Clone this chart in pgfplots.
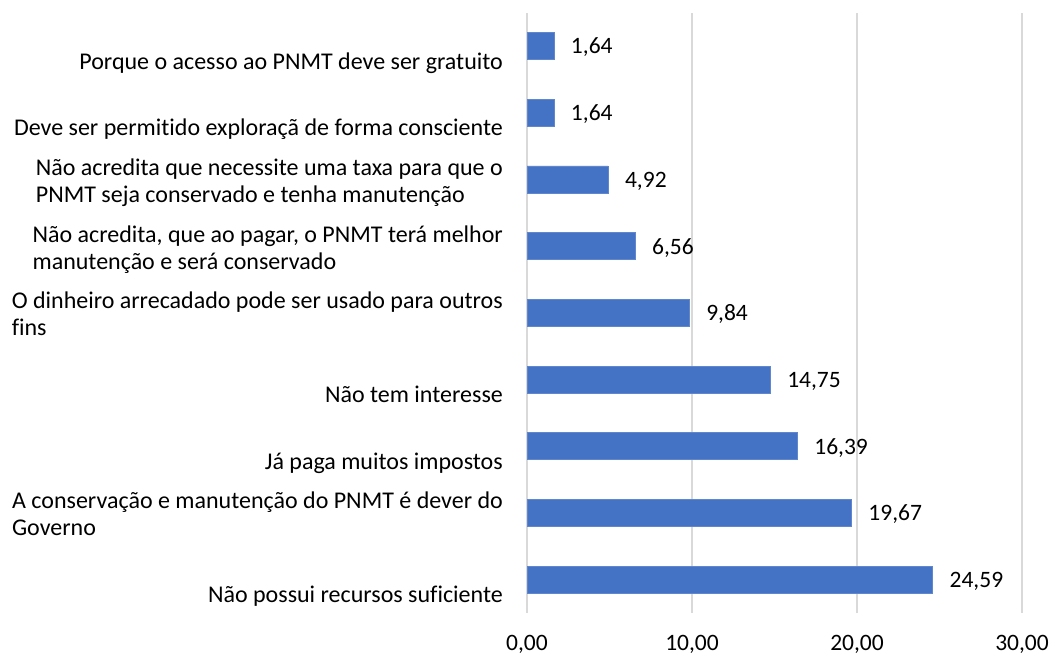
\documentclass[border=0pt]{standalone}
\usepackage{pgfplots}
\pgfplotsset{compat=1.18}
\usepackage{fontspec}
\setmainfont{Carlito}[Ligatures=NoCommon]
\definecolor{barblue}{HTML}{4472C4}
\definecolor{gridgray}{HTML}{D9D9D9}
\newcommand{\lf}{\fontsize{23.5}{27}\selectfont}
\newcommand{\cf}{\fontsize{24}{27}\selectfont}
\begin{document}
\begin{tikzpicture}[x=1pt,y=1pt]
\path[use as bounding box] (0,0) rectangle (1051,655);
\begin{axis}[
  at={(527pt,42pt)}, anchor=south west,
  scale only axis, width=495pt, height=600.3pt,
  xmin=0, xmax=30, ymin=-0.5, ymax=8.5,
  xbar, bar width=27pt,
  xtick={0,10,20,30},
  ytick={0,1,2,3,4,5,6,7,8},
  yticklabels={
    {\strut\\Não possui recursos suficiente\strut},
    {\strut A conservação e manutenção do PNMT é dever do\\Governo\strut},
    {\strut\\Já paga muitos impostos\strut},
    {\strut\\Não tem interesse\strut},
    {\strut O dinheiro arrecadado pode ser usado para outros\\fins\strut},
    {\strut Não acredita, que ao pagar, o PNMT terá melhor\\manutenção e será conservado\strut},
    {\strut Não acredita que necessite uma taxa para que o\\PNMT seja conservado e tenha manutenção\strut},
    {\strut\\Deve ser permitido exploraçã de forma consciente\strut},
    {\strut\\Porque o acesso ao PNMT deve ser gratuito\strut}
  },
  xmajorgrids, ymajorgrids=false,
  major grid style={gridgray, line width=1.3pt},
  axis line style={draw=none},
  major tick length=0pt,
  tick label style={font=\lf},
  yticklabel style={font=\cf, anchor=east, inner sep=0pt, xshift=-24pt, yshift=-4.1pt, align=left},
  xticklabel style={anchor=base, inner sep=0pt, yshift=-37.5pt},
  /pgf/number format/use comma,
  /pgf/number format/fixed,
  /pgf/number format/fixed zerofill,
  /pgf/number format/precision=2,
  /pgf/number format/assume math mode=true,
  nodes near coords,
  nodes near coords align={horizontal},
  every node near coord/.append style={font=\lf, anchor=west, inner sep=0pt, xshift=16.5pt, yshift=-1.5pt, text=black},
]
\addplot[fill=barblue, draw=barblue!85!white, line width=0.8pt] coordinates {
  (24.59,0) (19.67,1) (16.39,2) (14.75,3) (9.84,4) (6.56,5) (4.92,6) (1.64,7) (1.64,8)
};
\end{axis}
\end{tikzpicture}
\end{document}
